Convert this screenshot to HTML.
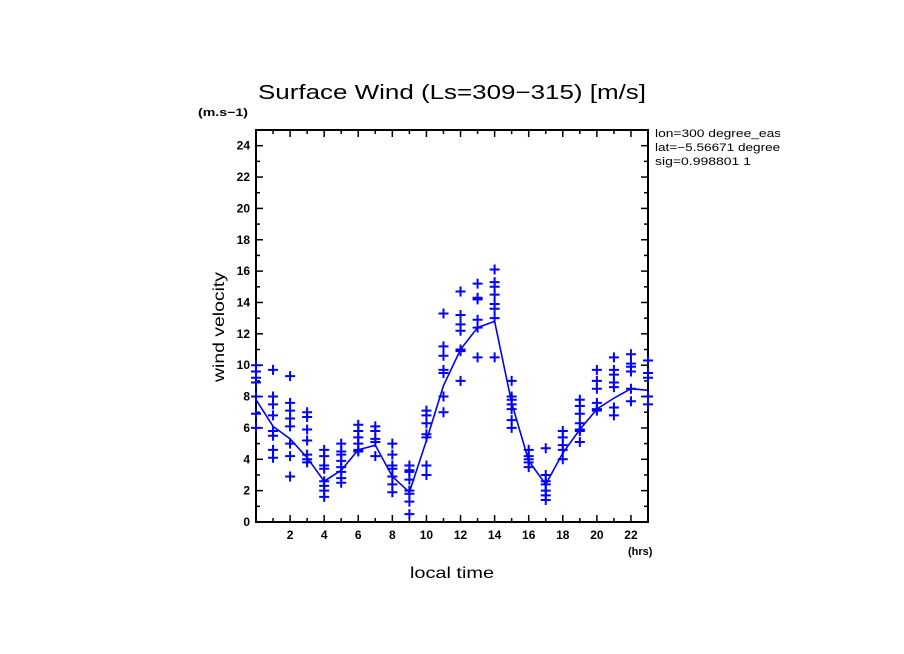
<!DOCTYPE html>
<html><head><meta charset="utf-8"><style>
html,body{margin:0;padding:0;background:#fff;width:904px;height:654px;overflow:hidden}
svg text{font-family:"Liberation Sans",sans-serif}
</style></head><body>
<svg id="chart" width="904" height="654" xmlns="http://www.w3.org/2000/svg">
<text x="258" y="99" font-size="20" fill="#000" textLength="388" lengthAdjust="spacingAndGlyphs">Surface Wind  (Ls=309−315) [m/s]</text>
<text x="198" y="116" font-size="11" font-weight="bold" fill="#000" textLength="50" lengthAdjust="spacingAndGlyphs">(m.s−1)</text>
<text x="628" y="555" font-size="11" font-weight="bold" fill="#000">(hrs)</text>
<text x="410" y="578" font-size="16" fill="#000" textLength="84" lengthAdjust="spacingAndGlyphs">local time</text>
<text transform="translate(224,382) rotate(-90)" font-size="16" fill="#000" textLength="110" lengthAdjust="spacingAndGlyphs">wind velocity</text>
<g font-size="11" fill="#000">
<svg x="655" y="126" width="125" height="50" overflow="hidden">
<text x="0" y="11" textLength="130" lengthAdjust="spacingAndGlyphs">lon=300 degree_east</text>
<text x="0" y="25" textLength="132" lengthAdjust="spacingAndGlyphs">lat=−5.56671 degrees</text>
<text x="0" y="39" textLength="96" lengthAdjust="spacingAndGlyphs">sig=0.998801 1</text>
</svg>
</g>
<g id="axes"></g>
<g id="marks"></g>
</svg>
<script>
const hours=[0,1,2,3,4,5,6,7,8,9,10,11,12,13,14,15,16,17,18,19,20,21,22,23];
const meanVals=[7.8,6.1,5.3,4.1,2.6,3.3,4.6,4.9,2.9,1.9,5.2,8.7,11.0,12.4,12.8,7.6,3.9,2.4,4.4,5.9,7.2,7.9,8.5,8.4];
const samples=[
[10.0,9.6,9.2,8.9,8.0,6.9,6.0],
[9.7,8.0,7.5,6.8,5.8,5.5,4.6,4.1],
[9.3,7.6,7.1,6.6,6.1,5.0,4.2,2.9],
[7.0,6.7,5.9,5.2,4.3,4.0,3.8],
[4.6,4.2,3.6,3.4,2.6,2.3,2.0,1.6],
[5.0,4.5,4.3,3.9,3.5,3.2,2.8,2.5],
[6.2,5.8,5.4,5.0,4.6,4.5],
[6.1,5.8,5.3,5.1,4.2],
[5.0,4.3,3.6,3.4,2.9,2.4,1.9],
[3.6,3.3,3.2,2.7,2.0,1.8,1.3,0.5],
[7.1,6.8,6.3,5.6,5.4,3.6,3.0],
[13.3,11.2,10.6,9.7,9.5,8.0,7.0],
[14.7,13.2,12.6,12.2,11.0,10.9,9.0],
[15.2,14.3,14.2,12.9,12.4,10.5],
[16.1,15.3,15.0,14.5,13.9,13.6,13.0,10.5],
[9.0,8.0,7.8,7.5,7.2,6.5,6.0],
[4.6,4.2,4.0,3.8,3.5],
[4.7,3.0,2.6,2.4,2.0,1.7,1.4],
[5.8,5.4,4.9,4.6,4.0],
[7.8,7.4,6.9,6.3,5.9,5.8,5.1],
[9.7,9.0,8.5,7.6,7.2,7.1],
[10.5,9.7,9.4,8.9,8.6,7.3,6.8],
[10.7,10.1,9.9,9.6,8.5,7.7],
[10.3,9.5,9.2,8.0,7.5]];
const yTickLabels=[0,2,4,6,8,10,12,14,16,18,20,22,24];
const xTickLabels=[2,4,6,8,10,12,14,16,18,20,22];

const L=256,R=648,T=130,B=522,X0=0,X1=23,Y0=0,Y1=25;
const xs=h=>L+(h-X0)/(X1-X0)*(R-L);
const ys=v=>B-(v-Y0)/(Y1-Y0)*(B-T);
const NS='http://www.w3.org/2000/svg';
function mk(tag,attrs,parent){const e=document.createElementNS(NS,tag);for(const k in attrs)e.setAttribute(k,attrs[k]);parent.appendChild(e);return e;}
const axes=document.getElementById('axes'),marks=document.getElementById('marks');

const frame=mk('rect',{x:L,y:T,width:R-L,height:B-T,fill:'none',stroke:'#000','stroke-width':2},axes);



for(let v=Y0;v<=Y1;v++){
  const y=ys(v),len=(v%2===0)?7:4;
  const t1=mk('line',{x1:L,x2:L+len,y1:y,y2:y,stroke:'#000','stroke-width':1.5},axes);
  
  
  const t2=mk('line',{x1:R,x2:R-len,y1:y,y2:y,stroke:'#000','stroke-width':1.5},axes);
  
  
}
yTickLabels.forEach(v=>{
  const t=mk('text',{x:L-6,y:ys(v)+4,'font-size':12,'font-weight':'bold','text-anchor':'end',fill:'#000'},axes);
  t.textContent=v;
  
  
});
for(let h=X0;h<=X1;h++){
  const x=xs(h),len=(h%2===0)?7:4;
  const t1=mk('line',{x1:x,x2:x,y1:B,y2:B-len,stroke:'#000','stroke-width':1.5},axes);
  
  
  const t2=mk('line',{x1:x,x2:x,y1:T,y2:T+len,stroke:'#000','stroke-width':1.5},axes);
  
  
}
xTickLabels.forEach(h=>{
  const t=mk('text',{x:xs(h),y:B+17,'font-size':12,'font-weight':'bold','text-anchor':'middle',fill:'#000'},axes);
  t.textContent=h;
  
  
});

const pts=hours.map((h,i)=>xs(h)+','+ys(meanVals[i])).join(' ');
const line=mk('polyline',{points:pts,fill:'none',stroke:'#0000ff','stroke-width':1.6},marks);



hours.forEach((h,i)=>{
  samples[i].forEach(v=>{
    const x=xs(h),y=ys(v);
    const p=mk('path',{d:`M${x-5},${y}H${x+5}M${x},${y-5}V${y+5}`,stroke:'#0000ff','stroke-width':2,fill:'none'},marks);
    
    
  });
});
</script>
</body></html>
